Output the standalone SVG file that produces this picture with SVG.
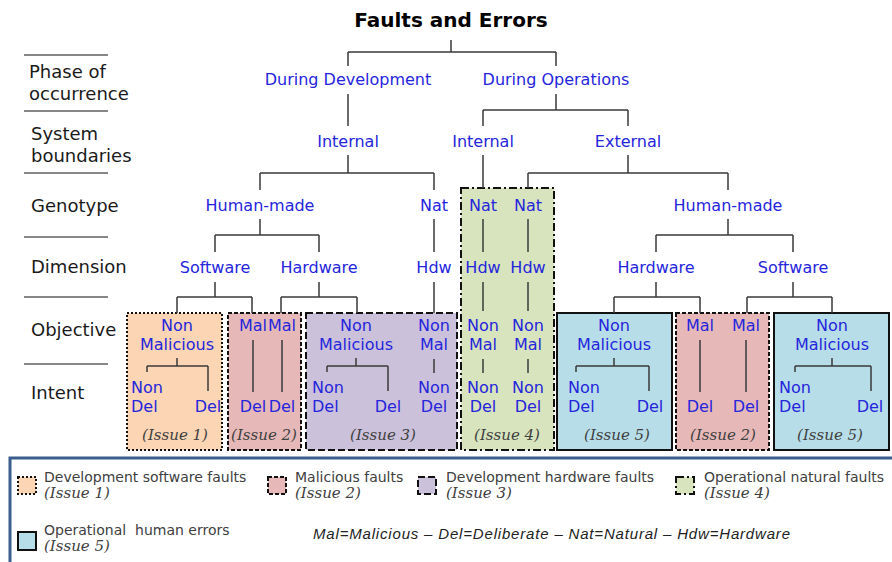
<svg xmlns="http://www.w3.org/2000/svg" width="892" height="562" viewBox="0 0 892 562">
<style>
.title{font-family:"DejaVu Sans",Verdana,sans-serif;font-size:20px;font-weight:bold;fill:#000;text-anchor:middle}
.lbl{font-family:"DejaVu Sans",Verdana,sans-serif;font-size:18px;fill:#1a1a1a}
.n{font-family:"DejaVu Sans",Verdana,sans-serif;font-size:16px;fill:#2525dc;text-anchor:middle}
.s{text-anchor:start}
.iss{font-family:"DejaVu Serif","Liberation Serif",serif;font-style:italic;font-size:15px;fill:#404040;text-anchor:middle}
.leg{font-family:"DejaVu Sans",Verdana,sans-serif;font-size:14px;fill:#404040;white-space:pre}
.legi{font-family:"DejaVu Serif","Liberation Serif",serif;font-style:italic;font-size:15px;fill:#404040}
.abbr{font-family:"Liberation Sans",Arial,sans-serif;font-style:italic;font-size:15px;fill:#222}
.c{fill:none;stroke:#3a3a3a;stroke-width:1.5}
.sep{stroke:#111;stroke-width:1.2}
.b1{fill:#fcd5b4;stroke:#111;stroke-width:2;stroke-dasharray:2 2}
.b2{fill:#e6b9b8;stroke:#111;stroke-width:2;stroke-dasharray:4 2}
.b3{fill:#ccc1da;stroke:#111;stroke-width:2;stroke-dasharray:7 3}
.b4{fill:#d7e4bd;stroke:#111;stroke-width:2;stroke-dasharray:8 3 2 3}
.b5{fill:#b7dee8;stroke:#111;stroke-width:2}
</style>

<text class="title" x="451" y="27">Faults and Errors</text>

<g id="row-labels">
<line class="sep" x1="24" y1="55" x2="108" y2="55"/>
<line class="sep" x1="24" y1="111" x2="108" y2="111"/>
<line class="sep" x1="24" y1="173" x2="108" y2="173"/>
<line class="sep" x1="24" y1="237" x2="108" y2="237"/>
<line class="sep" x1="24" y1="297" x2="108" y2="297"/>
<line class="sep" x1="24" y1="364" x2="108" y2="364"/>
<text class="lbl" x="29" y="78">Phase of</text>
<text class="lbl" x="29" y="100">occurrence</text>
<text class="lbl" x="31" y="140">System</text>
<text class="lbl" x="31" y="162">boundaries</text>
<text class="lbl" x="31" y="212">Genotype</text>
<text class="lbl" x="31" y="273">Dimension</text>
<text class="lbl" x="31" y="336">Objective</text>
<text class="lbl" x="31" y="399">Intent</text>
</g>

<g id="boxes">
<rect id="box-issue1" class="b1" x="127" y="313" width="95" height="137"/>
<rect id="box-issue2a" class="b2" x="228" y="313" width="73" height="137"/>
<rect id="box-issue3" class="b3" x="306" y="313" width="151" height="137"/>
<rect id="box-issue4" class="b4" x="461" y="188" width="93" height="262"/>
<rect id="box-issue5a" class="b5" x="557" y="313" width="115" height="137"/>
<rect id="box-issue2b" class="b2" x="676" y="313" width="93" height="137"/>
<rect id="box-issue5b" class="b5" x="774" y="313" width="115" height="137"/>
</g>

<g id="connectors">
<path class="c" d="M451 40V52M348 52H556M348 52V66M556 52V66"/>
<path class="c" d="M348 94V126M348 155V173M260 173H434M260 173V190M434 173V190"/>
<path class="c" d="M556 94V110M483 110H628M483 110V126M628 110V126"/>
<path class="c" d="M483 155V188M628 155V173M528 173H728M528 173V188M728 173V190"/>
<path class="c" d="M260 219V235M215 235H319M215 235V252M319 235V252M434 219V252M483 219V252M528 219V252M728 219V235M656 235H793M656 235V252M793 235V252"/>
<path class="c" d="M215 282V297M177 297H252M177 297V313M252 297V313M319 282V297M281 297H357M281 297V313M357 297V313M434 282V313M483 282V311M528 282V311M656 282V297M614 297H700M614 297V313M700 297V313M793 282V297M747 297H832M747 297V313M832 297V313"/>
<path class="c" d="M177 358V366M147 366H208M147 366V372M208 366V391M253 340V392M282 340V392"/>
<path class="c" d="M356 358V366M327 366H388M327 366V372M388 366V391M434 359V373M483 359V373M528 359V373"/>
<path class="c" d="M614 358V366M576 366H649M576 366V372M649 366V391M700 340V392M746 340V392M832 358V366M795 366H871M795 366V372M871 366V391"/>
</g>

<g id="phase">
<g id="n-during-dev"><text class="n" x="348" y="85">During Development</text></g>
<g id="n-during-ops"><text class="n" x="556" y="85">During Operations</text></g>
</g>
<g id="boundaries">
<g id="n-dev-internal"><text class="n" x="348" y="147">Internal</text></g>
<g id="n-ops-internal"><text class="n" x="483" y="147">Internal</text></g>
<g id="n-ops-external"><text class="n" x="628" y="147">External</text></g>
</g>
<g id="genotype">
<g id="n-dev-human"><text class="n" x="260" y="211">Human-made</text></g>
<g id="n-dev-nat"><text class="n" x="434" y="211">Nat</text></g>
<g id="n-ops-nat1"><text class="n" x="483" y="211">Nat</text></g>
<g id="n-ops-nat2"><text class="n" x="528" y="211">Nat</text></g>
<g id="n-ops-human"><text class="n" x="728" y="211">Human-made</text></g>
</g>
<g id="dimension">
<g id="n-dev-sw"><text class="n" x="215" y="273">Software</text></g>
<g id="n-dev-hw"><text class="n" x="319" y="273">Hardware</text></g>
<g id="n-dev-hdw"><text class="n" x="434" y="273">Hdw</text></g>
<g id="n-ops-hdw1"><text class="n" x="483" y="273">Hdw</text></g>
<g id="n-ops-hdw2"><text class="n" x="528" y="273">Hdw</text></g>
<g id="n-ops-hw"><text class="n" x="656" y="273">Hardware</text></g>
<g id="n-ops-sw"><text class="n" x="793" y="273">Software</text></g>
</g>
<g id="objective">
<g id="o1"><text class="n" x="177" y="331">Non</text><text class="n" x="177" y="350">Malicious</text></g>
<g id="o2"><text class="n" x="253" y="331">Mal</text></g>
<g id="o3"><text class="n" x="282" y="331">Mal</text></g>
<g id="o4"><text class="n" x="356" y="331">Non</text><text class="n" x="356" y="350">Malicious</text></g>
<g id="o5"><text class="n" x="434" y="331">Non</text><text class="n" x="434" y="350">Mal</text></g>
<g id="o6"><text class="n" x="483" y="331">Non</text><text class="n" x="483" y="350">Mal</text></g>
<g id="o7"><text class="n" x="528" y="331">Non</text><text class="n" x="528" y="350">Mal</text></g>
<g id="o8"><text class="n" x="614" y="331">Non</text><text class="n" x="614" y="350">Malicious</text></g>
<g id="o9"><text class="n" x="700" y="331">Mal</text></g>
<g id="o10"><text class="n" x="746" y="331">Mal</text></g>
<g id="o11"><text class="n" x="832" y="331">Non</text><text class="n" x="832" y="350">Malicious</text></g>
</g>
<g id="intent">
<g id="i1"><text class="n s" x="131" y="393">Non</text><text class="n s" x="131" y="412">Del</text></g>
<g id="i2"><text class="n" x="208" y="412">Del</text></g>
<g id="i3"><text class="n" x="253" y="412">Del</text></g>
<g id="i4"><text class="n" x="282" y="412">Del</text></g>
<g id="i5"><text class="n s" x="312" y="393">Non</text><text class="n s" x="312" y="412">Del</text></g>
<g id="i6"><text class="n" x="388" y="412">Del</text></g>
<g id="i7"><text class="n" x="434" y="393">Non</text><text class="n" x="434" y="412">Del</text></g>
<g id="i8"><text class="n" x="483" y="393">Non</text><text class="n" x="483" y="412">Del</text></g>
<g id="i9"><text class="n" x="528" y="393">Non</text><text class="n" x="528" y="412">Del</text></g>
<g id="i10"><text class="n s" x="568" y="393">Non</text><text class="n s" x="568" y="412">Del</text></g>
<g id="i11"><text class="n" x="650" y="412">Del</text></g>
<g id="i12"><text class="n" x="700" y="412">Del</text></g>
<g id="i13"><text class="n" x="746" y="412">Del</text></g>
<g id="i14"><text class="n s" x="779" y="393">Non</text><text class="n s" x="779" y="412">Del</text></g>
<g id="i15"><text class="n" x="870" y="412">Del</text></g>
</g>
<g id="issues">
<text class="iss" x="175" y="440">(Issue 1)</text>
<text class="iss" x="264" y="440">(Issue 2)</text>
<text class="iss" x="383" y="440">(Issue 3)</text>
<text class="iss" x="507" y="440">(Issue 4)</text>
<text class="iss" x="617" y="440">(Issue 5)</text>
<text class="iss" x="723" y="440">(Issue 2)</text>
<text class="iss" x="830" y="440">(Issue 5)</text>
</g>

<g id="legend">
<rect x="10" y="458" width="890" height="130" fill="none" stroke="#3b5e8c" stroke-width="3"/>
<rect class="b1" x="18" y="477" width="18" height="17" stroke-width="1.8"/>
<text class="leg" x="44" y="482">Development software faults</text>
<text class="legi" x="44" y="498">(Issue 1)</text>
<rect class="b2" x="268" y="477" width="18" height="17" stroke-width="1.8"/>
<text class="leg" x="295" y="482">Malicious faults</text>
<text class="legi" x="295" y="498">(Issue 2)</text>
<rect class="b3" x="418" y="477" width="18" height="17" stroke-width="1.8"/>
<text class="leg" x="446" y="482">Development hardware faults</text>
<text class="legi" x="446" y="498">(Issue 3)</text>
<rect class="b4" x="676" y="477" width="18" height="17" stroke-width="1.8"/>
<text class="leg" x="704" y="482">Operational natural faults</text>
<text class="legi" x="704" y="498">(Issue 4)</text>
<rect class="b5" x="18" y="532" width="18" height="18"/>
<text class="leg" x="44" y="535" xml:space="preserve">Operational  human errors</text>
<text class="legi" x="44" y="551">(Issue 5)</text>
<text class="abbr" x="313" y="539" textLength="477" lengthAdjust="spacing">Mal=Malicious – Del=Deliberate – Nat=Natural – Hdw=Hardware</text>
</g>
</svg>
